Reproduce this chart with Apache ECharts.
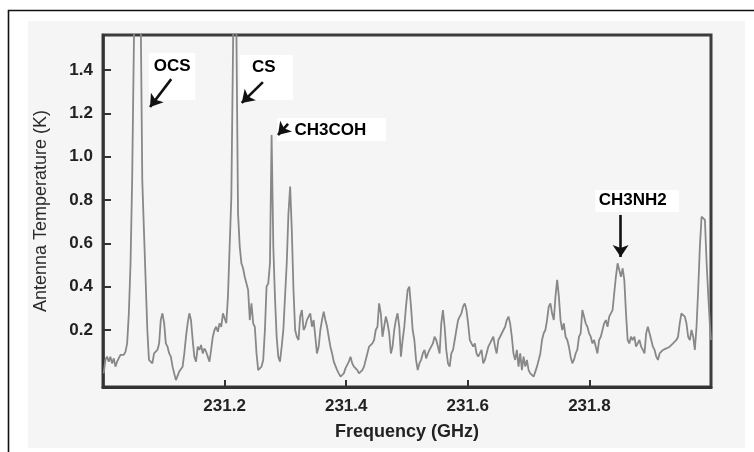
<!DOCTYPE html>
<html>
<head>
<meta charset="utf-8">
<script src="https://cdn.jsdelivr.net/npm/echarts@6/dist/echarts.min.js"></script>
<style>
html,body{margin:0;padding:0;background:#fff;}
#chart{width:754px;height:452px;}
</style>
</head>
<body>
<div id="chart"></div>
<script>
// Frequency (GHz) and antenna temperature (K)
var freqGHz = [
231.0011,231.0039,231.0066,231.0094,231.0121,231.0149,231.0177,231.0204,231.0232,231.0260,
231.0287,231.0315,231.0342,231.0370,231.0397,231.0425,231.0453,231.0480,231.0575,
231.0646,231.0673,231.0701,231.0729,231.0756,231.0784,231.0812,
231.0840,231.0868,231.0895,231.0923,231.0950,231.0978,231.1006,231.1033,231.1061,231.1089,
231.1116,231.1144,231.1171,231.1199,231.1226,231.1254,231.1282,231.1309,231.1337,231.1365,
231.1392,231.1420,231.1447,231.1475,231.1502,231.1530,231.1558,231.1585,231.1613,231.1641,
231.1668,231.1696,231.1723,231.1751,231.1778,231.1806,231.1834,231.1861,231.1889,231.1917,
231.1945,231.1973,231.2000,231.2028,231.2055,231.2083,231.2111,231.2171,
231.2221,231.2249,231.2276,231.2304,231.2331,231.2359,231.2387,231.2414,231.2442,231.2470,
231.2497,231.2525,231.2552,231.2580,231.2607,231.2635,231.2663,231.2690,231.2718,231.2746,
231.2773,231.2801,231.2828,231.2856,231.2883,231.2911,231.2939,231.2966,231.2994,231.3022,
231.3050,231.3078,231.3105,231.3133,231.3160,231.3188,231.3216,231.3243,231.3271,231.3299,
231.3326,231.3354,231.3381,231.3409,231.3436,231.3464,231.3492,231.3519,231.3547,231.3575,
231.3602,231.3630,231.3657,231.3685,231.3712,231.3740,231.3768,231.3795,231.3823,231.3851,
231.3878,231.3906,231.3933,231.3961,231.3988,231.4016,231.4044,231.4071,231.4099,231.4127,
231.4155,231.4183,231.4210,231.4238,231.4265,231.4293,231.4321,231.4348,231.4376,231.4404,
231.4431,231.4459,231.4486,231.4514,231.4541,231.4569,231.4597,231.4624,231.4652,231.4680,
231.4707,231.4735,231.4762,231.4790,231.4817,231.4845,231.4873,231.4900,231.4928,231.4956,
231.4983,231.5011,231.5038,231.5066,231.5093,231.5121,231.5149,231.5176,231.5204,231.5232,
231.5260,231.5288,231.5315,231.5343,231.5370,231.5398,231.5426,231.5453,231.5481,231.5509,
231.5536,231.5564,231.5591,231.5619,231.5646,231.5674,231.5702,231.5729,231.5757,231.5785,
231.5812,231.5840,231.5867,231.5895,231.5922,231.5950,231.5978,231.6005,231.6033,231.6061,
231.6088,231.6116,231.6143,231.6171,231.6198,231.6226,231.6254,231.6281,231.6309,231.6337,
231.6365,231.6393,231.6420,231.6448,231.6475,231.6503,231.6531,231.6558,231.6586,231.6614,
231.6641,231.6669,231.6696,231.6724,231.6751,231.6779,231.6807,231.6834,231.6862,231.6890,
231.6917,231.6945,231.6972,231.7000,231.7027,231.7055,231.7083,231.7110,231.7138,231.7166,
231.7193,231.7221,231.7248,231.7276,231.7303,231.7331,231.7359,231.7386,231.7414,231.7442,
231.7470,231.7498,231.7525,231.7553,231.7580,231.7608,231.7636,231.7663,231.7691,231.7719,
231.7746,231.7774,231.7801,231.7829,231.7856,231.7884,231.7912,231.7939,231.7967,231.7995,
231.8022,231.8050,231.8077,231.8105,231.8132,231.8160,231.8188,231.8215,231.8243,231.8271,
231.8298,231.8326,231.8353,231.8381,231.8408,231.8436,231.8464,231.8491,231.8519,231.8547,
231.8574,231.8602,231.8629,231.8657,231.8684,231.8712,231.8740,231.8767,231.8795,231.8823,
231.8851,231.8879,231.8906,231.8934,231.8961,231.8989,231.9017,231.9044,231.9072,231.9100,
231.9127,231.9155,231.9182,231.9210,231.9237,231.9265,231.9293,231.9320,231.9348,231.9376,
231.9403,231.9431,231.9458,231.9486,231.9513,231.9541,231.9569,231.9596,231.9624,231.9652,
231.9679,231.9707,231.9734,231.9762,231.9789,231.9817,231.9845,231.9872,231.9900,231.9928,
231.9956,231.9984,232.0000
];
var antennaTempK = [
0.000,0.062,0.077,0.054,0.077,0.046,0.069,0.031,0.054,0.062,
0.085,0.092,0.085,0.100,0.138,0.277,0.508,0.900,3.000,
0.892,0.662,0.431,0.200,0.062,0.054,0.046,
0.092,0.100,0.108,0.138,0.246,0.277,0.231,0.138,0.123,0.092,
0.077,0.031,0.000,-0.031,-0.023,0.008,0.000,0.031,0.092,0.169,
0.231,0.277,0.246,0.154,0.077,0.054,0.123,0.108,0.131,0.092,
0.115,0.100,0.092,0.054,0.108,0.169,0.200,0.215,0.192,0.231,
0.215,0.277,0.254,0.231,0.354,0.585,0.815,2.300,
0.738,0.585,0.508,0.485,0.446,0.438,0.385,0.246,0.323,0.231,
0.215,0.092,0.015,0.008,0.031,0.062,0.200,0.400,0.415,0.508,
1.100,0.585,0.354,0.169,0.077,0.054,0.123,0.200,0.354,0.508,
0.738,0.862,0.662,0.385,0.200,0.169,0.154,0.262,0.292,0.200,
0.215,0.246,0.262,0.277,0.215,0.246,0.169,0.092,0.123,0.200,
0.246,0.285,0.246,0.215,0.169,0.123,0.092,0.054,0.062,0.015,
0.000,-0.015,-0.008,0.000,0.023,0.031,0.054,0.077,0.046,0.031,
0.038,0.015,0.000,0.008,0.015,0.031,0.062,0.092,0.123,0.115,
0.138,0.154,0.200,0.215,0.323,0.277,0.169,0.215,0.262,0.231,
0.185,0.092,0.123,0.200,0.246,0.277,0.215,0.077,0.154,0.215,
0.308,0.385,0.400,0.308,0.200,0.154,0.062,0.015,0.046,0.062,
0.092,0.108,0.069,0.092,0.108,0.123,0.138,0.169,0.154,0.123,
0.092,0.231,0.292,0.215,0.108,0.046,0.031,0.092,0.108,0.154,
0.200,0.246,0.262,0.277,0.308,0.323,0.292,0.231,0.154,0.138,
0.123,0.138,0.092,0.077,0.092,0.108,0.046,0.062,0.092,0.123,
0.138,0.154,0.169,0.123,0.092,0.154,0.169,0.169,0.200,0.215,
0.246,0.262,0.231,0.169,0.092,0.062,0.108,0.031,0.092,0.015,
0.077,0.031,0.062,0.015,0.000,0.008,-0.015,-0.008,0.031,0.062,
0.092,0.154,0.185,0.200,0.246,0.308,0.323,0.277,0.246,0.354,
0.431,0.354,0.246,0.200,0.231,0.169,0.154,0.123,0.077,0.046,
0.062,0.092,0.108,0.169,0.185,0.292,0.262,0.231,0.215,0.185,
0.169,0.138,0.154,0.123,0.092,0.154,0.169,0.200,0.231,0.246,
0.215,0.262,0.277,0.292,0.369,0.446,0.508,0.477,0.446,0.485,
0.431,0.277,0.154,0.138,0.169,0.154,0.169,0.123,0.138,0.154,
0.123,0.108,0.092,0.185,0.215,0.185,0.154,0.123,0.108,0.077,
0.062,0.092,0.085,0.108,0.115,0.115,0.123,0.123,0.131,0.138,
0.146,0.154,0.169,0.231,0.277,0.285,0.262,0.231,0.169,0.154,
0.200,0.169,0.108,0.215,0.385,0.585,0.723,0.731,0.708,0.508,
0.354,0.215,0.154
];
var xTickValues = [231.2, 231.4, 231.6, 231.8];
var yTickValues = [0.2, 0.4, 0.6, 0.8, 1.0, 1.2, 1.4];

// Line annotations (text anchor in data coordinates)
var labelNames = ['OCS', 'CS', 'CH3COH', 'CH3NH2'];
var labelFreq = [231.1138, 231.2646, 231.3740, 231.8713];
var labelTemp = [1.418, 1.414, 1.123, 0.800];
// arrows: start and end (freq, temp)
var arrowFromFreq = [231.1122, 231.2630, 231.3044, 231.8514];
var arrowFromTemp = [1.358, 1.344, 1.151, 0.731];
var arrowToFreq = [231.0774, 231.2282, 231.2878, 231.8514];
var arrowToTemp = [1.229, 1.248, 1.100, 0.537];
// white label boxes: corners (freq, temp)
var boxFreq1 = [231.0757, 231.2249, 231.2862, 231.8098];
var boxTemp1 = [1.478, 1.469, 1.178, 0.846];
var boxFreq2 = [231.1519, 231.3127, 231.4652, 231.9473];
var boxTemp2 = [1.261, 1.261, 1.072, 0.745];

var lineData = freqGHz.map(function (f, i) { return [f, antennaTempK[i]]; });
var labelData = labelNames.map(function (n, i) { return { name: n, value: [labelFreq[i], labelTemp[i]] }; });
var arrowData = arrowFromFreq.map(function (f, i) {
  return [{ coord: [f, arrowFromTemp[i]] }, { coord: [arrowToFreq[i], arrowToTemp[i]] }];
});
var boxData = boxFreq1.map(function (f, i) {
  return [{ coord: [f, boxTemp1[i]] }, { coord: [boxFreq2[i], boxTemp2[i]] }];
});

var FONT = '"Liberation Sans", Arial, sans-serif';
var chart = echarts.init(document.getElementById('chart'), null, { renderer: 'canvas' });
chart.setOption({
  animation: false,
  backgroundColor: '#ffffff',
  graphic: [
    { type: 'rect', z: -20, silent: true, shape: { x: 8.5, y: 10.5, width: 800, height: 500 },
      style: { fill: '#ffffff', stroke: '#111111', lineWidth: 1.6 } },
    { type: 'rect', z: -19, silent: true, shape: { x: 28, y: 21, width: 717, height: 427 },
      style: { fill: '#f5f5f5' } }
  ],
  grid: {
    left: 103, right: 43, top: 35, bottom: 65,
    show: true, borderColor: '#3c3c3c', borderWidth: 3, backgroundColor: 'transparent'
  },
  xAxis: {
    type: 'value', min: 231.0, max: 232.0,
    name: 'Frequency (GHz)', nameLocation: 'middle', nameGap: 36,
    nameTextStyle: { fontFamily: FONT, fontSize: 18, fontWeight: 'bold', color: '#222' },
    axisLine: { show: true, onZero: false, lineStyle: { color: '#333', width: 3 } },
    axisTick: { show: true, inside: true, length: 7, customValues: xTickValues, lineStyle: { color: '#333', width: 2 } },
    axisLabel: { customValues: xTickValues, margin: 11, fontFamily: FONT, fontSize: 17, fontWeight: 'bold', color: '#222',
      formatter: function (v) { return v.toFixed(1); } },
    splitLine: { show: false }
  },
  yAxis: {
    type: 'value', min: -0.063, max: 1.5615,
    name: 'Antenna Temperature (K)', nameLocation: 'middle', nameGap: 53,
    nameTextStyle: { fontFamily: FONT, fontSize: 18, color: '#2a2a2a' },
    axisLine: { show: true, onZero: false, lineStyle: { color: '#333', width: 2.5 } },
    axisTick: { show: true, inside: true, length: 8, customValues: yTickValues, lineStyle: { color: '#333', width: 2 } },
    axisLabel: { customValues: yTickValues, margin: 10, fontFamily: FONT, fontSize: 17, fontWeight: 'bold', color: '#222',
      formatter: function (v) { return v.toFixed(1); } },
    splitLine: { show: false }
  },
  series: [
    {
      type: 'line', name: 'spectrum', data: lineData, showSymbol: false, clip: true, z: 3,
      lineStyle: { color: '#888888', width: 1.8 }, silent: true
    },
    {
      type: 'line', name: 'annotationMarks', data: [], z: 4, silent: true,
      itemStyle: { color: '#111' },
      markArea: { silent: true, itemStyle: { color: '#ffffff' }, data: boxData },
      markLine: {
        silent: true, symbol: ['none', 'arrow'], symbolSize: 12, symbolOffset: 0,
        itemStyle: { color: '#111', opacity: 1 },
        lineStyle: { color: '#111', width: 2.6, type: 'solid', opacity: 1 },
        label: { show: false }, data: arrowData
      }
    },
    {
      type: 'scatter', name: 'labels', data: labelData, symbolSize: 1, z: 6, silent: true,
      itemStyle: { color: 'rgba(0,0,0,0)' },
      label: { show: true, position: 'inside', formatter: '{b}', fontFamily: FONT, fontSize: 17,
        fontWeight: 'bold', color: '#000', opacity: 1 }
    }
  ]
});
</script>
</body>
</html>
